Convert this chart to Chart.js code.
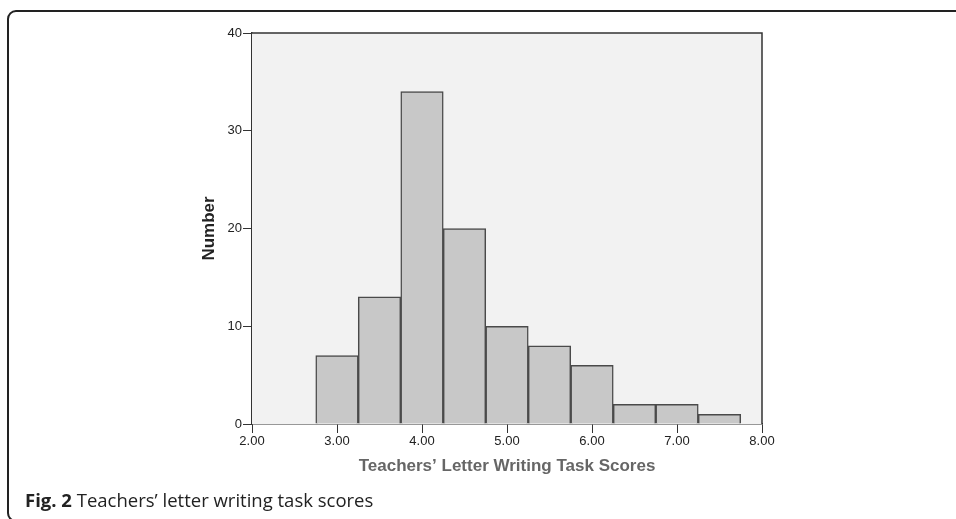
<!DOCTYPE html>
<html>
<head>
<meta charset="utf-8">
<script src="https://cdn.jsdelivr.net/npm/chart.js@4.4.1/dist/chart.umd.min.js"></script>
<style>
  html, body { margin: 0; padding: 0; background: #fff; overflow: hidden; }
  #wrap { position: relative; width: 956px; height: 519px; overflow: hidden; }
  #frame { position: absolute; left: 7px; top: 10px; width: 1000px; height: 512px;
           border: 2px solid #222; border-radius: 9px; box-sizing: border-box; }
  #chart { position: absolute; left: 0; top: 0; }
  #caption { position: absolute; left: 25px; top: 487px; line-height: 26px;
             font-family: "Open Sans", sans-serif; font-size: 18.5px; color: #222; white-space: nowrap; }
  #caption b { font-weight: 700; }
</style>
</head>
<body>
<div id="wrap">
  <div id="frame"></div>
  <canvas id="chart" width="956" height="519"></canvas>
  <div id="caption"><b>Fig. 2</b> Teachers’ letter writing task scores</div>
</div>
<script>
// Data
const binCenters = [3.0, 3.5, 4.0, 4.5, 5.0, 5.5, 6.0, 6.5, 7.0, 7.5];
const counts     = [7, 13, 34, 20, 10, 8, 6, 2, 2, 1];
const xTicks     = [2, 3, 4, 5, 6, 7, 8];
const yTicks     = [0, 10, 20, 30, 40];
const xTitle = "Teachers’ Letter Writing Task Scores";
const yTitle = "Number";

const points = binCenters.map((c, i) => ({ x: c, y: counts[i] }));

const plotFrame = {
  id: 'plotFrame',
  beforeDatasetsDraw(chart) {
    const { ctx, chartArea: a } = chart;
    ctx.save();
    ctx.fillStyle = '#f2f2f2';
    ctx.fillRect(a.left, a.top, a.right - a.left, a.bottom - a.top);
    ctx.restore();
  },
  afterDraw(chart) {
    const { ctx, chartArea: a } = chart;
    ctx.save();
    ctx.strokeStyle = '#333';
    ctx.lineWidth = 1.5;
    ctx.beginPath();
    ctx.moveTo(a.left, a.top);
    ctx.lineTo(a.right, a.top);
    ctx.lineTo(a.right, a.bottom);
    ctx.stroke();
    ctx.restore();
  }
};

new Chart(document.getElementById('chart'), {
  type: 'bar',
  data: {
    datasets: [{
      data: points,
      backgroundColor: '#c8c8c8',
      borderColor: '#4a4a4a',
      borderWidth: 1.5,
      barPercentage: 1,
      categoryPercentage: 1,
      borderSkipped: 'start'
    }]
  },
  plugins: [plotFrame],
  options: {
    responsive: false,
    animation: false,
    events: [],
    layout: { padding: { left: 199, top: 33, right: 194, bottom: 42 } },
    plugins: { legend: { display: false }, tooltip: { enabled: false } },
    scales: {
      x: {
        type: 'linear',
        offset: false,
        min: xTicks[0],
        max: xTicks[xTicks.length - 1],
        afterBuildTicks(scale) { scale.ticks = xTicks.map(v => ({ value: v })); },
        afterFit(scale) { scale.height = 53; },
        grid: { offset: false, drawOnChartArea: false, tickLength: 9, color: '#333', lineWidth: 1 },
        border: { color: '#333', width: 1.5 },
        ticks: {
          padding: 1,
          color: '#222',
          font: { family: 'Arial, "Liberation Sans"', size: 13 },
          maxRotation: 0,
          callback: v => Number(v).toFixed(2)
        },
        title: {
          display: true, text: xTitle, color: '#666', padding: 0,
          font: { family: 'Arial, "Liberation Sans"', size: 17, weight: 'bold' }
        }
      },
      y: {
        min: yTicks[0],
        max: yTicks[yTicks.length - 1],
        afterBuildTicks(scale) { scale.ticks = yTicks.map(v => ({ value: v })); },
        afterFit(scale) { scale.width = 53; },
        grid: { drawOnChartArea: false, tickLength: 9, color: '#333', lineWidth: 1 },
        border: { color: '#333', width: 1.5 },
        ticks: {
          padding: 1,
          color: '#222',
          font: { family: 'Arial, "Liberation Sans"', size: 13 }
        },
        title: {
          display: true, text: yTitle, color: '#222', padding: 0,
          font: { family: 'Arial, "Liberation Sans"', size: 17, weight: 'bold' }
        }
      }
    }
  }
});
</script>
</body>
</html>
